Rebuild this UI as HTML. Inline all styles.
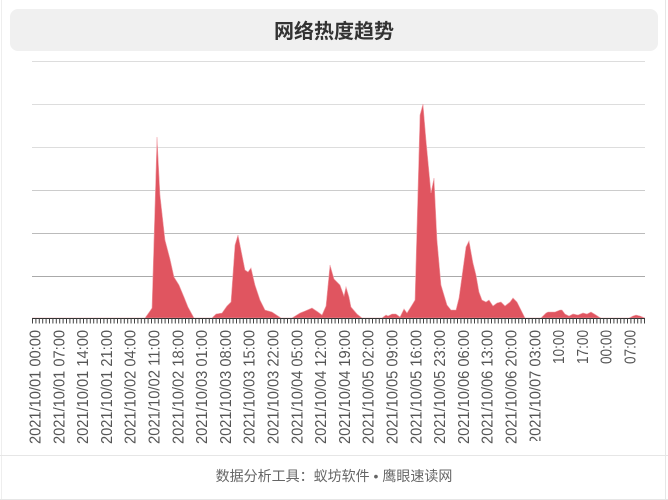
<!DOCTYPE html>
<html><head><meta charset="utf-8"><style>
html,body{margin:0;padding:0;background:#fff;}
body{width:668px;height:500px;overflow:hidden;position:relative;font-family:"Liberation Sans","Noto Sans CJK SC",sans-serif;}
</style></head><body>
<svg width="668" height="500" xmlns="http://www.w3.org/2000/svg" style="position:absolute;left:0;top:0">
<line x1="665.5" y1="0" x2="665.5" y2="500" stroke="#e6e6e6"/>
<line x1="1.5" y1="0" x2="1.5" y2="500" stroke="#eee"/>
<rect x="10" y="9" width="648" height="42" rx="8" fill="#f0f0f0"/>
<text x="334" y="38" text-anchor="middle" font-size="20" font-weight="bold" fill="#333" font-family="'Liberation Sans','Noto Sans CJK SC',sans-serif">网络热度趋势</text>
<g stroke="#ddd" stroke-width="1">
<line x1="32" y1="61.5" x2="645" y2="61.5"/>
<line x1="32" y1="104.5" x2="645" y2="104.5"/>
<line x1="32" y1="147.5" x2="645" y2="147.5"/>
<line x1="32" y1="190.5" x2="645" y2="190.5" stroke="#ccc"/>
<line x1="32" y1="233.5" x2="645" y2="233.5" stroke="#bbb"/>
<line x1="32" y1="276.5" x2="645" y2="276.5" stroke="#aaa"/>
</g>
<polygon fill="#e05560" stroke="#f0a0a8" stroke-width="0.6" points="32,318 145,318 150,311 152,308 157,137 160,195 165,240 170,259 174,277 179,285 184,297 188,307 194,318 212,318 216,314 222,313 227,306 231,302 235,245 238,235 245,270 248,272 251,268 255,285 260,300 265,310 272,312 281,318 292,318 300,313 305,311 312,308 318,312 322,315 326,306 330,265 334,279 340,285 344,296 346,287 349,297 351,307 357,314 362,318 382,318 386,315 388,316 392,314 396,314 400,317 404,309 407,313 412,305 415,300 420,115 423,104 426,140 431,193 434,178 437,240 441,285 447,305 451,310 456,310 459,298 466,247 469,241 473,263 476,275 479,292 482,300 486,302 489,300 493,306 497,303 501,302 505,306 510,302 513,298 517,302 521,310 525,318 541,318 546,313 548,312 555,312 560,310 562,310 565,314 569,316 573,314 578,315 583,313 587,314 591,312 596,315 599,317 601,318 629,318 633,316 636,315 640,316 645,318"/>
<line x1="32" y1="318.5" x2="645" y2="318.5" stroke="#333" stroke-width="1"/>
<line x1="32" y1="321" x2="645" y2="321" stroke="#444" stroke-width="5" stroke-dasharray="1,2.4"/>
<g font-size="15.5" fill="#555" text-anchor="end">
<text transform="translate(40.5,330) rotate(-90)" textLength="114" lengthAdjust="spacingAndGlyphs">2021/10/01 00:00</text>
<text transform="translate(64.3,330) rotate(-90)" textLength="114" lengthAdjust="spacingAndGlyphs">2021/10/01 07:00</text>
<text transform="translate(88.1,330) rotate(-90)" textLength="114" lengthAdjust="spacingAndGlyphs">2021/10/01 14:00</text>
<text transform="translate(111.9,330) rotate(-90)" textLength="114" lengthAdjust="spacingAndGlyphs">2021/10/01 21:00</text>
<text transform="translate(135.7,330) rotate(-90)" textLength="114" lengthAdjust="spacingAndGlyphs">2021/10/02 04:00</text>
<text transform="translate(159.5,330) rotate(-90)" textLength="114" lengthAdjust="spacingAndGlyphs">2021/10/02 11:00</text>
<text transform="translate(183.3,330) rotate(-90)" textLength="114" lengthAdjust="spacingAndGlyphs">2021/10/02 18:00</text>
<text transform="translate(207.1,330) rotate(-90)" textLength="114" lengthAdjust="spacingAndGlyphs">2021/10/03 01:00</text>
<text transform="translate(230.9,330) rotate(-90)" textLength="114" lengthAdjust="spacingAndGlyphs">2021/10/03 08:00</text>
<text transform="translate(254.7,330) rotate(-90)" textLength="114" lengthAdjust="spacingAndGlyphs">2021/10/03 15:00</text>
<text transform="translate(278.5,330) rotate(-90)" textLength="114" lengthAdjust="spacingAndGlyphs">2021/10/03 22:00</text>
<text transform="translate(302.3,330) rotate(-90)" textLength="114" lengthAdjust="spacingAndGlyphs">2021/10/04 05:00</text>
<text transform="translate(326.1,330) rotate(-90)" textLength="114" lengthAdjust="spacingAndGlyphs">2021/10/04 12:00</text>
<text transform="translate(349.9,330) rotate(-90)" textLength="114" lengthAdjust="spacingAndGlyphs">2021/10/04 19:00</text>
<text transform="translate(373.7,330) rotate(-90)" textLength="114" lengthAdjust="spacingAndGlyphs">2021/10/05 02:00</text>
<text transform="translate(397.5,330) rotate(-90)" textLength="114" lengthAdjust="spacingAndGlyphs">2021/10/05 09:00</text>
<text transform="translate(421.3,330) rotate(-90)" textLength="114" lengthAdjust="spacingAndGlyphs">2021/10/05 16:00</text>
<text transform="translate(445.1,330) rotate(-90)" textLength="114" lengthAdjust="spacingAndGlyphs">2021/10/05 23:00</text>
<text transform="translate(468.9,330) rotate(-90)" textLength="114" lengthAdjust="spacingAndGlyphs">2021/10/06 06:00</text>
<text transform="translate(492.7,330) rotate(-90)" textLength="114" lengthAdjust="spacingAndGlyphs">2021/10/06 13:00</text>
<text transform="translate(516.5,330) rotate(-90)" textLength="114" lengthAdjust="spacingAndGlyphs">2021/10/06 20:00</text>
<text transform="translate(540.3,330) rotate(-90)" textLength="114" lengthAdjust="spacingAndGlyphs">2021/10/07 03:00</text>
<text transform="translate(564.1,330) rotate(-90)" textLength="34" lengthAdjust="spacingAndGlyphs">10:00</text>
<text transform="translate(587.9,330) rotate(-90)" textLength="34" lengthAdjust="spacingAndGlyphs">17:00</text>
<text transform="translate(611.7,330) rotate(-90)" textLength="34" lengthAdjust="spacingAndGlyphs">00:00</text>
<text transform="translate(635.5,330) rotate(-90)" textLength="34" lengthAdjust="spacingAndGlyphs">07:00</text>
</g>
<rect x="528" y="441" width="30" height="14" fill="#fff"/>
<line x1="0" y1="455.5" x2="668" y2="455.5" stroke="#e6e6e6"/>
<line x1="0" y1="499.5" x2="668" y2="499.5" stroke="#e6e6e6"/>
<text x="334" y="481" text-anchor="middle" font-size="14" fill="#666">数据分析工具：蚁坊软件 • 鹰眼速读网</text>
</svg>
</body></html>
